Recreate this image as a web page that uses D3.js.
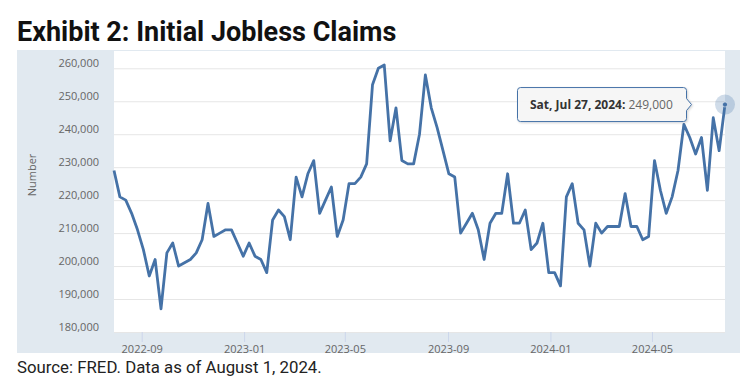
<!DOCTYPE html>
<html>
<head>
<meta charset="utf-8">
<script src="https://cdn.jsdelivr.net/npm/d3@7"></script>
<style>
  body { margin: 0; background: #fff; }
  svg { display: block; }
</style>
</head>
<body>
<div id="chart"></div>
<script>
// weekly initial claims, first week ending Sat Jul 30, 2022
const startWeek = "2022-07-30";
const claims = [
    229000, 221000, 220000, 216000, 211000, 205000, 197000, 202000, 187000, 204000,
    207000, 200000, 201000, 202000, 204000, 208000, 219000, 209000, 210000, 211000,
    211000, 207000, 203000, 207000, 203000, 202000, 198000, 214000, 217000, 215000,
    208000, 227000, 221000, 228000, 232000, 216000,
    220000, 224000, 209000, 214000, 225000, 225000, 227000, 231000, 255000, 260000,
    261000, 238000, 248000, 232000, 231000, 231000, 240000, 258000, 248000, 242000,
    235000, 228000, 227000, 210000, 213000, 216000, 211000, 202000, 213000, 216000,
    216000, 228000, 213000, 213000,
    217000, 205000, 207000, 213000, 198000, 198000, 194000, 221000, 225000, 213000,
    211000, 200000, 213000, 210000, 212000,
    212000, 212000, 222000, 212000, 212000, 208000, 209000, 232000, 223000, 216000,
    221000, 229000, 243000, 239000, 234000, 239000, 223000, 245000, 235000, 249000
];
const xTickLabels = ["2022-09", "2023-01", "2023-05", "2023-09", "2024-01", "2024-05"];
const yTickValues = [180000, 190000, 200000, 210000, 220000, 230000, 240000, 250000, 260000];

const width = 750, height = 381;
const plot = { left: 114, right: 725, top: 51, bottom: 332 };

const parseDay = d3.utcParse("%Y-%m-%d");
const parseMonth = d3.utcParse("%Y-%m");
const t0 = parseDay(startWeek);
const data = claims.map((v, i) => ({ date: d3.utcWeek.offset(t0, i), value: v }));

const svg = d3.select("#chart").append("svg")
    .attr("width", width).attr("height", height);

// shadow for the tooltip box
let defs = svg.append("defs");
let shadow = defs.append("filter").attr("id", "tipShadow")
    .attr("x", "-10%").attr("y", "-20%").attr("width", "130%").attr("height", "160%");
shadow.append("feDropShadow")
    .attr("dx", 1).attr("dy", 1).attr("stdDeviation", 1.2)
    .attr("flood-color", "#000").attr("flood-opacity", 0.18);

// title
svg.append("text")
    .attr("x", 17).attr("y", 41)
    .attr("font-family", "Roboto, sans-serif")
    .attr("font-weight", "bold")
    .attr("font-size", "27px")
    .attr("fill", "#111")
    .text("Exhibit 2: Initial Jobless Claims");

// chart panel
svg.append("rect")
    .attr("x", 17).attr("y", 50)
    .attr("width", 723).attr("height", 303)
    .attr("fill", "#e1e9f0");
svg.append("rect")
    .attr("x", plot.left).attr("y", plot.top)
    .attr("width", plot.right - plot.left).attr("height", plot.bottom - plot.top)
    .attr("fill", "#fff");

let x = d3.scaleUtc()
    .domain([data[0].date, data[data.length - 1].date])
    .range([plot.left, plot.right]);
let y = d3.scaleLinear()
    .domain([180000, 260000])
    .range([plot.bottom, 68.3]);

// y grid + labels
let yAxis = svg.append("g")
    .attr("transform", "translate(" + plot.left + ",0)")
    .call(d3.axisLeft(y).tickValues(yTickValues).tickFormat(d3.format(","))
        .tickSize(-(plot.right - plot.left)).tickPadding(15));
yAxis.select(".domain").remove();
yAxis.selectAll(".tick line").attr("stroke", "#e6e6e6").attr("stroke-width", 1);
yAxis.selectAll(".tick text")
    .attr("dy", "-0.15em")
    .attr("font-family", "'Open Sans', sans-serif")
    .attr("font-size", "11px")
    .attr("fill", "#666");

// x axis
let xAxis = svg.append("g")
    .attr("transform", "translate(0," + plot.bottom + ")")
    .call(d3.axisBottom(x).tickValues(xTickLabels.map(parseMonth))
        .tickFormat(d3.utcFormat("%Y-%m")).tickSize(10).tickPadding(3));
xAxis.select(".domain").remove();
xAxis.selectAll(".tick line").attr("stroke", "#ccd6eb");
xAxis.selectAll(".tick text")
    .attr("font-family", "'Open Sans', sans-serif")
    .attr("font-size", "11px")
    .attr("fill", "#666");

// y axis title
svg.append("text")
    .attr("transform", "translate(36,175) rotate(-90)")
    .attr("text-anchor", "middle")
    .attr("font-family", "'Open Sans', sans-serif")
    .attr("font-size", "11px")
    .attr("fill", "#666")
    .text("Number");

// series line
let line = d3.line()
    .x(d => x(d.date))
    .y(d => y(d.value));
svg.append("path")
    .datum(data)
    .attr("fill", "none")
    .attr("stroke", "#4572a7")
    .attr("stroke-width", 2.8)
    .attr("stroke-linejoin", "round")
    .attr("d", line);

// hover marker on the last point
let last = data[data.length - 1];
svg.append("circle")
    .attr("cx", x(last.date)).attr("cy", y(last.value))
    .attr("r", 10).attr("fill", "#4572a7").attr("fill-opacity", 0.25);
svg.append("circle")
    .attr("cx", x(last.date)).attr("cy", y(last.value))
    .attr("r", 2.5).attr("fill", "#4572a7").attr("stroke", "#fff").attr("stroke-width", 0.5);

// tooltip
let tipY = y(last.value);
let tip = svg.append("g");
let bx = 517.5, bw = 169, bh = 34, by = tipY - 17;
tip.append("path")
    .attr("d", "M" + (bx + 3) + "," + by +
        " h" + (bw - 6) + " q3,0 3,3 v" + (bh / 2 - 9) +
        " l5,6 l-5,6 v" + (bh / 2 - 9) + " q0,3 -3,3 h" + (-(bw - 6)) +
        " q-3,0 -3,-3 v" + (-(bh - 6)) + " q0,-3 3,-3 z")
    .attr("fill", "rgba(247,247,247,0.92)")
    .attr("stroke", "#4572a7")
    .attr("stroke-width", 1)
    .attr("filter", "url(#tipShadow)");
let tipText = tip.append("text")
    .attr("x", 530).attr("y", tipY + 4)
    .attr("font-family", "'Open Sans', sans-serif")
    .attr("font-size", "12px")
    .attr("fill", "#333");
tipText.append("tspan").attr("font-weight", "bold")
    .text(d3.utcFormat("%a, %b %d, %Y")(last.date) + ":");
tipText.append("tspan").attr("fill", "#666").text(" " + d3.format(",")(last.value));

// source
svg.append("text")
    .attr("x", 17).attr("y", 373)
    .attr("font-family", "Roboto, sans-serif")
    .attr("font-size", "16.8px")
    .attr("fill", "#222")
    .text("Source: FRED. Data as of August 1, 2024.");
</script>
</body>
</html>
